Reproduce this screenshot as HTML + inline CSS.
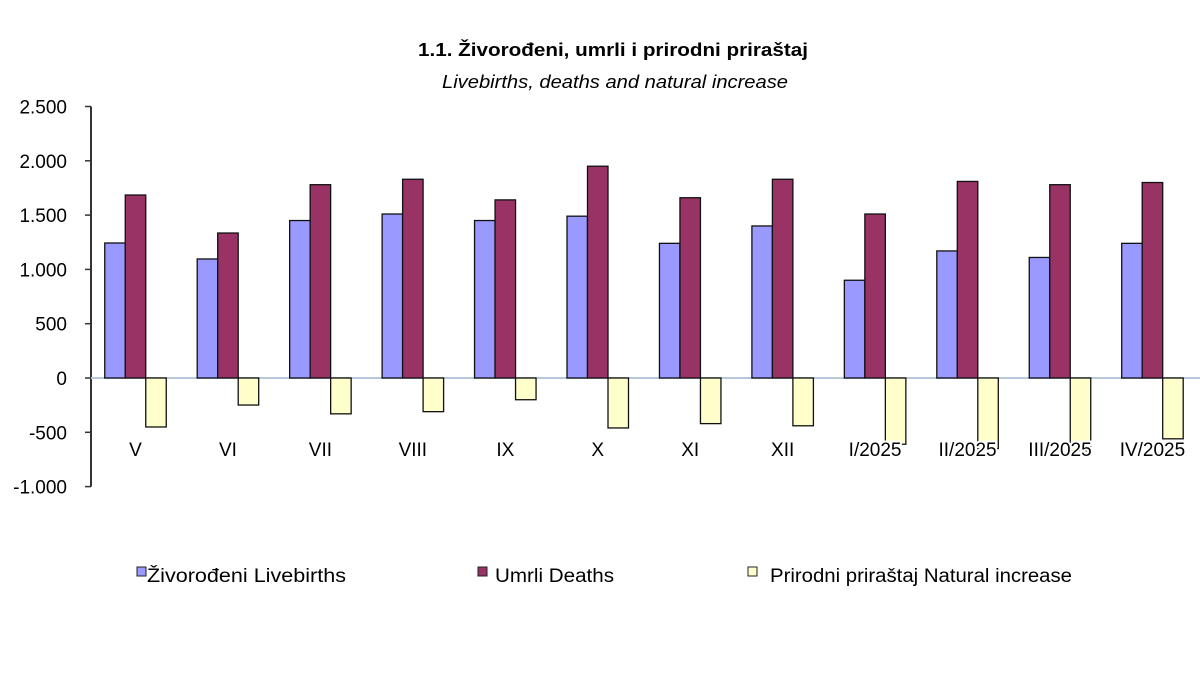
<!DOCTYPE html>
<html><head><meta charset="utf-8"><style>
body{margin:0;background:#fff;width:1200px;height:675px;overflow:hidden;font-family:"Liberation Sans",sans-serif;}
svg text{font-family:"Liberation Sans",sans-serif;}
</style></head><body>
<svg id="chart" width="1200" height="675" xmlns="http://www.w3.org/2000/svg">
<text x="418" y="56" font-size="18" font-weight="bold" textLength="390" lengthAdjust="spacingAndGlyphs">1.1. Živorođeni, umrli  i prirodni priraštaj</text>
<text x="442" y="88" font-size="18" font-style="italic" textLength="346" lengthAdjust="spacingAndGlyphs">Livebirths,  deaths and natural  increase</text>
<g id="axes"></g><g id="bars"></g><g id="xlabels"></g>
<g>
<g><rect x="137" y="567" width="9" height="9" fill="#9999ff" stroke="#222" stroke-width="1"/><text x="147" y="582" font-size="19" textLength="199" lengthAdjust="spacingAndGlyphs">Živorođeni Livebirths</text></g>
<g><rect x="478" y="567" width="9" height="9" fill="#993366" stroke="#222" stroke-width="1"/><text x="495" y="582" font-size="19" textLength="119" lengthAdjust="spacingAndGlyphs">Umrli Deaths</text></g>
<g><rect x="748" y="567" width="9" height="9" fill="#ffffcc" stroke="#222" stroke-width="1"/><text x="770" y="582" font-size="19" textLength="302" lengthAdjust="spacingAndGlyphs">Prirodni priraštaj Natural increase</text></g>
</g>
</svg>
<script>
const categories=["V","VI","VII","VIII","IX","X","XI","XII","I/2025","II/2025","III/2025","IV/2025"];
const livebirths=[1243,1096,1450,1510,1450,1490,1240,1400,900,1170,1110,1240];
const deaths=[1685,1335,1780,1830,1640,1950,1660,1830,1510,1810,1780,1800];
const naturalIncrease=[-451,-249,-330,-310,-200,-460,-420,-440,-610,-650,-670,-560];
const yTicks=[2500,2000,1500,1000,500,0,-500,-1000];
const yTickLabels=["2.500","2.000","1.500","1.000","500","0","-500","-1.000"];
const NS="http://www.w3.org/2000/svg";
const x0=91, catW=92.45, zeroY=378, pxPer=54.3/500;
const y=v=>zeroY-v*pxPer;
const cx=i=>135.5+catW*i;
function mk(tag,attrs,parent){const e=document.createElementNS(NS,tag);for(const k in attrs)e.setAttribute(k,attrs[k]);parent.appendChild(e);return e;}
const axes=document.getElementById('axes'), bars=document.getElementById('bars'), xl=document.getElementById('xlabels');
const ax=mk('line',{x1:x0,y1:y(2500),x2:x0,y2:y(-1000),stroke:'#333','stroke-width':2},axes);


yTicks.forEach((t,i)=>{
 const tk=mk('line',{x1:x0-6,y1:y(t),x2:x0,y2:y(t),stroke:'#333','stroke-width':1.5},axes);
 
 
 const lb=mk('text',{x:67,y:y(t)+7,'text-anchor':'end','font-size':19},axes);
 lb.textContent=yTickLabels[i];
 
 
});
const zl=mk('line',{x1:x0,y1:zeroY,x2:1200,y2:zeroY,stroke:'#b8c8dc','stroke-width':2},axes);


const bw=20.5;
const series=[[livebirths,'#9999ff','bar-livebirths'],[deaths,'#993366','bar-deaths'],[naturalIncrease,'#ffffcc','bar-natural-increase']];
categories.forEach((c,i)=>{
 const c0=cx(i);
 series.forEach((s,j)=>{
  const v=s[0][i];
  const bx=c0-1.5*bw+j*bw;
  const r=mk('rect',{x:bx,y:Math.min(y(v),zeroY),width:bw,height:Math.abs(y(v)-zeroY),fill:s[1],stroke:'#111','stroke-width':1.3},bars);
  
  
 });
 const t=mk('text',{x:c0,y:456,'text-anchor':'middle','font-size':19,stroke:'#fff','stroke-width':4,'paint-order':'stroke'},xl);
 t.textContent=c;
 
 
});
</script>
</body></html>
